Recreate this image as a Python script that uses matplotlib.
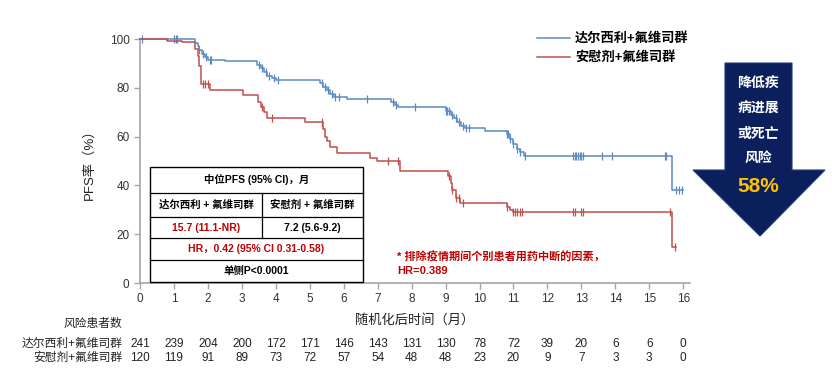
import numpy as np
import matplotlib
matplotlib.use("Agg")
import matplotlib.pyplot as plt
from matplotlib.patches import Polygon, Rectangle
from matplotlib.lines import Line2D

plt.rcParams['font.family'] = ['Liberation Sans', 'Noto Sans CJK SC', 'DejaVu Sans']

# ---------------- data ----------------
series_names = ["达尔西利+氟维司群", "安慰剂+氟维司群"]

blue_t = [0, 1.62, 1.70, 1.75, 1.82, 1.90, 2.00, 2.50, 3.45, 3.55, 3.65, 3.75, 3.90, 4.00,
          5.30, 5.40, 5.50, 5.60, 5.70, 6.10, 7.40, 7.50, 7.60, 9.00, 9.15, 9.25, 9.35,
          9.45, 9.57, 10.17, 10.80, 10.90, 11.00, 11.10, 11.20, 11.30, 15.67, 16.0]
blue_s = [100, 98.5, 97, 95.5, 94, 92.5, 91.5, 90.8, 89.5, 88, 86.5, 85, 84, 83.2,
          82, 80.5, 79, 77.5, 76.3, 75.5, 74, 73, 72, 70.5, 69, 67.5, 66,
          64.5, 63.4, 62.3, 61, 59, 57, 55, 53.5, 52.0, 38.2, 38.2]
blue_cens = [0.05, 1.0, 1.05, 1.1, 1.75, 1.85, 1.95, 2.05, 2.1, 3.5, 3.6, 3.7, 3.8, 3.95,
             4.05, 5.35, 5.45, 5.55, 5.65, 5.75, 5.85, 6.7, 7.45, 7.55, 8.1, 9.0, 9.05, 9.1,
             9.2, 9.3, 9.4, 9.5, 9.6, 9.7, 10.8, 10.85, 10.9, 11.0, 11.1, 11.2, 11.35,
             12.75, 12.8, 12.85, 12.9, 12.95, 13.0, 13.05, 13.6, 13.9, 15.45, 15.5,
             15.8, 15.88, 15.96]

red_t = [0, 0.79, 1.23, 1.62, 1.70, 1.75, 1.80, 2.06, 3.04, 3.47, 3.55, 3.65, 3.73,
         4.86, 5.40, 5.45, 5.50, 5.60, 5.80, 6.78, 6.97, 7.65, 9.07, 9.15, 9.20, 9.30,
         9.43, 10.80, 10.90, 11.00, 15.67, 15.80]
red_s = [100, 99.3, 98.6, 96, 93, 89, 81.5, 79, 77, 74, 72, 70, 67.5,
         66.1, 63, 60, 58, 55.9, 53.2, 51.1, 50, 46, 44, 41, 38, 35,
         32.7, 31, 30, 29.2, 14.6, 14.6]
red_cens = [1.85, 1.9, 2.0, 3.6, 3.88, 5.35, 7.3, 7.6, 9.1, 9.2, 9.3, 9.4, 9.5,
            10.8, 11.0, 11.05, 11.1, 11.2, 11.25, 12.75, 12.8, 13.0, 13.05, 15.6, 15.75]

risk_times = list(range(17))
risk_blue = [241, 239, 204, 200, 172, 171, 146, 143, 131, 130, 78, 72, 39, 20, 6, 6, 0]
risk_red = [120, 119, 91, 89, 73, 72, 57, 54, 48, 48, 23, 20, 9, 7, 3, 3, 0]

x_ticks = list(range(17))
y_ticks = [0, 20, 40, 60, 80, 100]

BLUE = "#5b8ac4"
RED = "#c0504d"
DARKRED = "#c00000"
NAVY = "#0a1f5c"
GOLD = "#ffc000"

W, H = 832, 382
fig = plt.figure(figsize=(W / 100, H / 100), dpi=100)


def fx(x):
    return x / W


def fy(y):
    return 1 - y / H


ax = fig.add_axes([fx(140), fy(283), fx(690) - fx(140), fy(39) - fy(283)])
ax.set_xlim(0, 16.2)
ax.set_ylim(0, 100)


def surv_at(ts, ss, t):
    i = np.searchsorted(ts, t, side='right') - 1
    return ss[max(i, 0)]


for ts, ss, cens, col in [(blue_t, blue_s, blue_cens, BLUE), (red_t, red_s, red_cens, RED)]:
    ax.step(ts, ss, where='post', color=col, lw=1.1, clip_on=False, zorder=3)
    cy = [surv_at(np.array(ts), ss, c) for c in cens]
    ax.plot(cens, cy, linestyle='none', marker='|', markersize=6, markeredgewidth=0.9,
            color=col, clip_on=False, zorder=3)

for side in ['top', 'right']:
    ax.spines[side].set_visible(False)
for side in ['left', 'bottom']:
    ax.spines[side].set_color('#a6a6a6')
    ax.spines[side].set_linewidth(1.2)
ax.spines['left'].set_bounds(0, 100)
ax.set_xticks(x_ticks)
ax.set_yticks(y_ticks)
ax.tick_params(axis='both', colors='#a6a6a6', labelcolor='#333333', labelsize=8.5,
               length=4, width=1)
ax.set_xlabel("随机化后时间（月）", fontsize=9.5, color='#222222', labelpad=6)
ax.set_ylabel("PFS率（%）", fontsize=9.5, color='#222222', labelpad=10)

# legend
for i, (name, col) in enumerate(zip(series_names, [BLUE, RED])):
    yy = 38 + i * 19
    fig.add_artist(Line2D([fx(537), fx(570)], [fy(yy), fy(yy)], color=col, lw=1.1))
    fig.text(fx(575), fy(yy), name, fontsize=9.5, fontweight='bold', va='center',
             ha='left', color='black')

# summary table
tl, tr, tt, tb = 150, 363, 167, 282
fig.add_artist(Rectangle((fx(tl), fy(tb)), fx(tr) - fx(tl), fy(tt) - fy(tb), fill=True,
                         facecolor='white', edgecolor='black', lw=1.0, zorder=5))
for yy in [193, 217, 238, 260]:
    fig.add_artist(Line2D([fx(tl), fx(tr)], [fy(yy), fy(yy)], color='black', lw=0.9, zorder=6))
fig.add_artist(Line2D([fx(262), fx(262)], [fy(193), fy(238)], color='black', lw=0.9, zorder=6))
tkw = dict(fontsize=7.5, fontweight='bold', ha='center', va='center', zorder=7)
mid = (tl + tr) / 2
fig.text(fx(mid), fy(180), "中位PFS (95% CI)，月", color='black', **tkw)
fig.text(fx(206), fy(205), "达尔西利 + 氟维司群", color='black', **tkw)
fig.text(fx(312), fy(205), "安慰剂 + 氟维司群", color='black', **tkw)
fig.text(fx(206), fy(228), "15.7 (11.1-NR)", color=DARKRED, **tkw)
fig.text(fx(312), fy(228), "7.2 (5.6-9.2)", color='black', **tkw)
fig.text(fx(mid), fy(249), "HR，0.42 (95% CI 0.31-0.58)", color=DARKRED, **tkw)
fig.text(fx(mid), fy(271), "单侧P<0.0001", color='black', **tkw)

# footnote
fig.text(fx(397), fy(257), "* 排除疫情期间个别患者用药中断的因素，", color=DARKRED,
         fontsize=8, fontweight='bold', ha='left', va='center')
fig.text(fx(397), fy(271), "HR=0.389", color=DARKRED, fontsize=8, fontweight='bold',
         ha='left', va='center')

# arrow
arrow_pts = [(725, 63), (792, 63), (792, 170), (825, 170), (760, 236), (693, 170), (725, 170)]
fig.add_artist(Polygon([(fx(x), fy(y)) for x, y in arrow_pts], closed=True,
                       facecolor=NAVY, edgecolor='#1f3a7a', lw=0.8))
for txt, yy in [("降低疾", 83), ("病进展", 109), ("或死亡", 134), ("风险", 158)]:
    fig.text(fx(758), fy(yy), txt, color='white', fontsize=10, fontweight='bold',
             ha='center', va='center')
fig.text(fx(758), fy(186), "58%", color=GOLD, fontsize=15, fontweight='bold',
         ha='center', va='center')

# risk table
fig.text(fx(122), fy(324), "风险患者数", fontsize=8.5, ha='right', va='center', color='#222222')
for name, vals, yy in [(series_names[0], risk_blue, 344), (series_names[1], risk_red, 358)]:
    fig.text(fx(122), fy(yy), name, fontsize=8.5, ha='right', va='center', color='#222222')
    for t, v in zip(risk_times, vals):
        xd = ax.transData.transform((t, 0))[0]
        fig.text(xd / (W), fy(yy), str(v), fontsize=8.5, ha='center', va='center',
                 color='#222222')

fig.savefig("out.png", dpi=100)
